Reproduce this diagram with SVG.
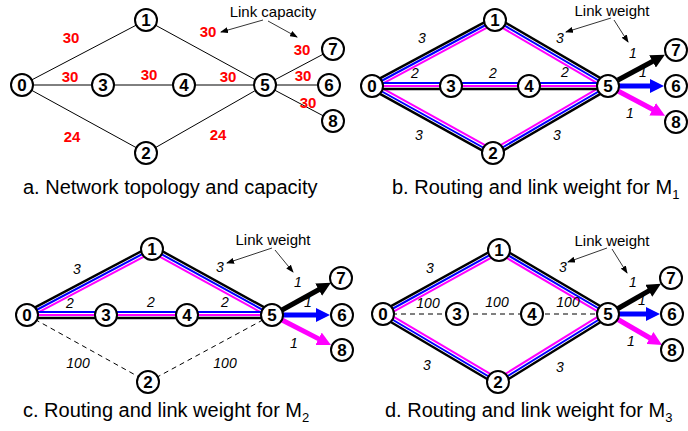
<svg xmlns="http://www.w3.org/2000/svg" width="688" height="431" viewBox="0 0 688 431">
<style>
.n circle{fill:#fff;stroke:#000;stroke-width:2}
.n text{font-family:"Liberation Sans",Arial,sans-serif;font-weight:bold;font-size:17px;text-anchor:middle}
.thin{stroke:#000;stroke-width:1;fill:none}
.dash{stroke:#000;stroke-width:1;stroke-dasharray:5,4;fill:none}
.bk{stroke:#000;stroke-width:2.4;fill:none}
.bl{stroke:#0000ff;stroke-width:2;fill:none}
.mg{stroke:#ff00ff;stroke-width:2;fill:none}
.ak{stroke:#000;stroke-width:5;fill:none}
.ab{stroke:#0000ff;stroke-width:5;fill:none}
.am{stroke:#ff00ff;stroke-width:5;fill:none}
.ann{stroke:#000;stroke-width:0.8;fill:none;marker-end:url(#sm)}
.cap{font-family:"Liberation Sans",Arial,sans-serif;font-weight:bold;font-size:15px;fill:#ff0000;text-anchor:middle}
.w{font-family:"Liberation Sans",Arial,sans-serif;font-style:italic;font-size:14px;text-anchor:middle}
.lbl{font-family:"Liberation Sans",Arial,sans-serif;font-size:15px;text-anchor:middle}
.title{font-family:"Liberation Sans",Arial,sans-serif;font-size:20px}
</style>
<defs>
<marker id="hk" markerUnits="userSpaceOnUse" viewBox="0 0 14 14" markerWidth="14" markerHeight="14" refX="3" refY="7" orient="auto"><path d="M0,0 L14,7 L0,14 z" fill="#000"/></marker>
<marker id="hb" markerUnits="userSpaceOnUse" viewBox="0 0 14 14" markerWidth="14" markerHeight="14" refX="3" refY="7" orient="auto"><path d="M0,0 L14,7 L0,14 z" fill="#0000ff"/></marker>
<marker id="hm" markerUnits="userSpaceOnUse" viewBox="0 0 14 14" markerWidth="14" markerHeight="14" refX="3" refY="7" orient="auto"><path d="M0,0 L14,7 L0,14 z" fill="#ff00ff"/></marker>
<marker id="sm" markerUnits="userSpaceOnUse" viewBox="0 0 8 6" markerWidth="8" markerHeight="6" refX="7" refY="3" orient="auto"><path d="M0,0 L8,3 L0,6 z" fill="#000"/></marker>
</defs>

<!-- Panel a -->
<g id="connectors-a">
<line class="thin" x1="22" y1="85" x2="146" y2="20"/>
<line class="thin" x1="146" y1="20" x2="265" y2="85"/>
<line class="thin" x1="22" y1="85" x2="265" y2="85"/>
<line class="thin" x1="22" y1="85" x2="146" y2="153"/>
<line class="thin" x1="146" y1="153" x2="265" y2="85"/>
<line class="thin" x1="265" y1="85" x2="333" y2="49"/>
<line class="thin" x1="265" y1="85" x2="329" y2="85"/>
<line class="thin" x1="265" y1="85" x2="333" y2="121"/>
<line class="ann" x1="263" y1="20" x2="221" y2="32"/>
<line class="ann" x1="268" y1="21" x2="297" y2="37"/>
</g>
<g id="labels-a">
<text class="cap" x="71" y="43">30</text>
<text class="cap" x="70" y="82">30</text>
<text class="cap" x="149" y="80">30</text>
<text class="cap" x="228" y="82">30</text>
<text class="cap" x="208" y="37">30</text>
<text class="cap" x="302" y="55">30</text>
<text class="cap" x="303" y="81">30</text>
<text class="cap" x="308" y="108">30</text>
<text class="cap" x="72" y="142">24</text>
<text class="cap" x="218" y="140">24</text>
<text class="lbl" x="273" y="17">Link capacity</text>
</g>
<g id="a0" class="n"><circle cx="22" cy="85" r="11"/><text x="22" y="91">0</text></g>
<g id="a1" class="n"><circle cx="146" cy="20" r="11"/><text x="146" y="26">1</text></g>
<g id="a2" class="n"><circle cx="146" cy="153" r="11"/><text x="146" y="159">2</text></g>
<g id="a3" class="n"><circle cx="103" cy="85" r="11"/><text x="103" y="91">3</text></g>
<g id="a4" class="n"><circle cx="184" cy="85" r="11"/><text x="184" y="91">4</text></g>
<g id="a5" class="n"><circle cx="265" cy="85" r="11"/><text x="265" y="91">5</text></g>
<g id="a6" class="n"><circle cx="329" cy="85" r="11"/><text x="329" y="91">6</text></g>
<g id="a7" class="n"><circle cx="333" cy="49" r="11"/><text x="333" y="55">7</text></g>
<g id="a8" class="n"><circle cx="333" cy="121" r="11"/><text x="333" y="127">8</text></g>
<text class="title" x="23" y="194">a. Network topology and capacity</text>

<!-- Panel b -->
<g id="connectors-b">
<line class="bk" x1="370.6" y1="83.4" x2="493.6" y2="17.4"/>
<line class="bl" x1="372" y1="86" x2="495" y2="20"/>
<line class="mg" x1="373.4" y1="88.6" x2="496.4" y2="22.6"/>
<line class="bk" x1="496.5" y1="17.4" x2="609.5" y2="83.4"/>
<line class="bl" x1="495" y1="20" x2="608" y2="86"/>
<line class="mg" x1="493.5" y1="22.6" x2="606.5" y2="88.6"/>
<line class="bk" x1="370.5" y1="88.6" x2="491.5" y2="155.6"/>
<line class="bl" x1="372" y1="86" x2="493" y2="153"/>
<line class="mg" x1="373.5" y1="83.4" x2="494.5" y2="150.4"/>
<line class="bk" x1="494.5" y1="155.6" x2="609.5" y2="88.6"/>
<line class="bl" x1="493" y1="153" x2="608" y2="86"/>
<line class="mg" x1="491.5" y1="150.4" x2="606.5" y2="83.4"/>
<line class="bl" x1="372" y1="83" x2="608" y2="83"/>
<line class="mg" x1="372" y1="86" x2="608" y2="86"/>
<line class="bk" x1="372" y1="89" x2="608" y2="89"/>
<line class="ak" x1="618" y1="80" x2="655.2" y2="60" marker-end="url(#hk)"/>
<line class="ab" x1="619" y1="86" x2="653" y2="86" marker-end="url(#hb)"/>
<line class="am" x1="618" y1="91" x2="655.3" y2="110.7" marker-end="url(#hm)"/>
<line class="ann" x1="611" y1="18" x2="566" y2="32"/>
<line class="ann" x1="614" y1="20" x2="628" y2="42"/>
</g>
<g id="labels-b">
<text class="w" x="422" y="43">3</text>
<text class="w" x="560" y="43">3</text>
<text class="w" x="415" y="78">2</text>
<text class="w" x="493" y="78">2</text>
<text class="w" x="565" y="77">2</text>
<text class="w" x="419" y="140">3</text>
<text class="w" x="557" y="140">3</text>
<text class="w" x="633" y="58">1</text>
<text class="w" x="643" y="77">1</text>
<text class="w" x="630" y="118">1</text>
<text class="lbl" x="612" y="16">Link weight</text>
</g>
<g id="b0" class="n"><circle cx="372" cy="86" r="11"/><text x="372" y="92">0</text></g>
<g id="b1" class="n"><circle cx="495" cy="20" r="11"/><text x="495" y="26">1</text></g>
<g id="b2" class="n"><circle cx="493" cy="153" r="11"/><text x="493" y="159">2</text></g>
<g id="b3" class="n"><circle cx="451" cy="86" r="11"/><text x="451" y="92">3</text></g>
<g id="b4" class="n"><circle cx="529" cy="86" r="11"/><text x="529" y="92">4</text></g>
<g id="b5" class="n"><circle cx="608" cy="86" r="11"/><text x="608" y="92">5</text></g>
<g id="b6" class="n"><circle cx="676" cy="86" r="11"/><text x="676" y="92">6</text></g>
<g id="b7" class="n"><circle cx="676" cy="50" r="11"/><text x="676" y="56">7</text></g>
<g id="b8" class="n"><circle cx="676" cy="122" r="11"/><text x="676" y="128">8</text></g>
<text class="title" x="392" y="194">b. Routing and link weight for M<tspan font-size="13" dy="5">1</tspan></text>

<!-- Panel c -->
<g id="connectors-c">
<line class="bk" x1="25.6" y1="312.35" x2="150.6" y2="246.35"/>
<line class="bl" x1="27" y1="315" x2="152" y2="249"/>
<line class="mg" x1="28.4" y1="317.65" x2="153.4" y2="251.65"/>
<line class="bk" x1="153.45" y1="246.37" x2="273.45" y2="312.37"/>
<line class="bl" x1="152" y1="249" x2="272" y2="315"/>
<line class="mg" x1="150.55" y1="251.63" x2="270.55" y2="317.63"/>
<line class="bl" x1="27" y1="312" x2="272" y2="312"/>
<line class="mg" x1="27" y1="315" x2="272" y2="315"/>
<line class="bk" x1="27" y1="318" x2="272" y2="318"/>
<line class="dash" x1="27" y1="315" x2="148" y2="382"/>
<line class="dash" x1="148" y1="382" x2="272" y2="315"/>
<line class="ak" x1="282" y1="310" x2="321.3" y2="288.2" marker-end="url(#hk)"/>
<line class="ab" x1="283" y1="315" x2="319" y2="315" marker-end="url(#hb)"/>
<line class="am" x1="282" y1="320" x2="321.2" y2="340.1" marker-end="url(#hm)"/>
<line class="ann" x1="272" y1="248" x2="227" y2="263"/>
<line class="ann" x1="275" y1="250" x2="293" y2="272"/>
</g>
<g id="labels-c">
<text class="w" x="77" y="274">3</text>
<text class="w" x="220" y="272">3</text>
<text class="w" x="70" y="308">2</text>
<text class="w" x="151" y="307">2</text>
<text class="w" x="225" y="307">2</text>
<text class="w" x="78" y="368">100</text>
<text class="w" x="225" y="368">100</text>
<text class="w" x="298" y="287">1</text>
<text class="w" x="308" y="307">1</text>
<text class="w" x="294" y="348">1</text>
<text class="lbl" x="273" y="245">Link weight</text>
</g>
<g id="c0" class="n"><circle cx="27" cy="315" r="11"/><text x="27" y="321">0</text></g>
<g id="c1" class="n"><circle cx="152" cy="249" r="11"/><text x="152" y="255">1</text></g>
<g id="c2" class="n"><circle cx="148" cy="382" r="11"/><text x="148" y="388">2</text></g>
<g id="c3" class="n"><circle cx="106" cy="315" r="11"/><text x="106" y="321">3</text></g>
<g id="c4" class="n"><circle cx="187" cy="315" r="11"/><text x="187" y="321">4</text></g>
<g id="c5" class="n"><circle cx="272" cy="315" r="11"/><text x="272" y="321">5</text></g>
<g id="c6" class="n"><circle cx="342" cy="315" r="11"/><text x="342" y="321">6</text></g>
<g id="c7" class="n"><circle cx="341" cy="278" r="11"/><text x="341" y="284">7</text></g>
<g id="c8" class="n"><circle cx="342" cy="350" r="11"/><text x="342" y="356">8</text></g>
<text class="title" x="23" y="417">c. Routing and link weight for M<tspan font-size="13" dy="5">2</tspan></text>

<!-- Panel d -->
<g id="connectors-d">
<line class="bk" x1="381.55" y1="311.37" x2="497.55" y2="247.37"/>
<line class="bl" x1="383" y1="314" x2="499" y2="250"/>
<line class="mg" x1="384.45" y1="316.63" x2="500.45" y2="252.63"/>
<line class="bk" x1="500.52" y1="247.41" x2="609.52" y2="311.41"/>
<line class="bl" x1="499" y1="250" x2="608" y2="314"/>
<line class="mg" x1="497.48" y1="252.59" x2="606.48" y2="316.59"/>
<line class="bk" x1="381.47" y1="316.58" x2="496.47" y2="384.58"/>
<line class="bl" x1="383" y1="314" x2="498" y2="382"/>
<line class="mg" x1="384.53" y1="311.42" x2="499.53" y2="379.42"/>
<line class="bk" x1="499.58" y1="384.55" x2="609.58" y2="316.55"/>
<line class="bl" x1="498" y1="382" x2="608" y2="314"/>
<line class="mg" x1="496.42" y1="379.45" x2="606.42" y2="311.45"/>
<line class="dash" x1="383" y1="314" x2="608" y2="314"/>
<line class="ak" x1="618" y1="308.5" x2="651.4" y2="289.3" marker-end="url(#hk)"/>
<line class="ab" x1="619" y1="314" x2="649" y2="314" marker-end="url(#hb)"/>
<line class="am" x1="618" y1="319.5" x2="652.5" y2="339.5" marker-end="url(#hm)"/>
<line class="ann" x1="607" y1="248" x2="568" y2="262"/>
<line class="ann" x1="612" y1="249" x2="627" y2="273"/>
</g>
<g id="labels-d">
<text class="w" x="430" y="273">3</text>
<text class="w" x="563" y="272">3</text>
<text class="w" x="428" y="308">100</text>
<text class="w" x="497" y="307">100</text>
<text class="w" x="568" y="307">100</text>
<text class="w" x="427" y="370">3</text>
<text class="w" x="560" y="372">3</text>
<text class="w" x="633" y="287">1</text>
<text class="w" x="642" y="305">1</text>
<text class="w" x="631" y="346">1</text>
<text class="lbl" x="612" y="246">Link weight</text>
</g>
<g id="d0" class="n"><circle cx="383" cy="314" r="11"/><text x="383" y="320">0</text></g>
<g id="d1" class="n"><circle cx="499" cy="250" r="11"/><text x="499" y="256">1</text></g>
<g id="d2" class="n"><circle cx="498" cy="382" r="11"/><text x="498" y="388">2</text></g>
<g id="d3" class="n"><circle cx="457" cy="314" r="11"/><text x="457" y="320">3</text></g>
<g id="d4" class="n"><circle cx="532" cy="314" r="11"/><text x="532" y="320">4</text></g>
<g id="d5" class="n"><circle cx="608" cy="314" r="11"/><text x="608" y="320">5</text></g>
<g id="d6" class="n"><circle cx="672" cy="314" r="11"/><text x="672" y="320">6</text></g>
<g id="d7" class="n"><circle cx="671" cy="278" r="11"/><text x="671" y="284">7</text></g>
<g id="d8" class="n"><circle cx="672" cy="350" r="11"/><text x="672" y="356">8</text></g>
<text class="title" x="385" y="417">d. Routing and link weight for M<tspan font-size="13" dy="5">3</tspan></text>
</svg>
